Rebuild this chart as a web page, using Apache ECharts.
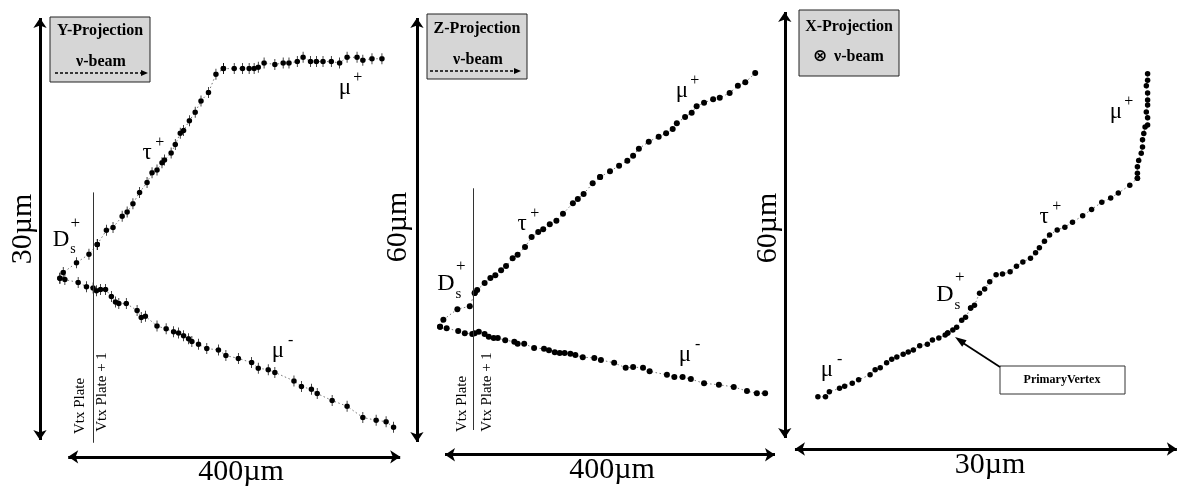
<!DOCTYPE html>
<html>
<head>
<meta charset="utf-8">
<script src="https://cdn.jsdelivr.net/npm/echarts@6.0.0/dist/echarts.min.js"></script>
<style>html,body{margin:0;padding:0;background:#fff}#c{width:1177px;height:487px}</style>
</head>
<body>
<div id="c"></div>
<script>
// ---------- DATA (µm) ----------
// Y-Projection (x: beam direction, 400 µm scale; y: 30 µm scale)
const yDs = [[-10,11.5],[-6,11.9],[10,12.6],[25,13.2],[35,13.9]];
const yTau = [[35,13.9],[46,14.9],[54,15.1],[65,15.9],[71,16.2],[78,16.8],[86,17.6],[95,18.3],[101,19.0],[107,19.2],[113,19.7],[116,19.9],[124,20.4],[129,21.0],[135,21.8],[139,22.0],[146,22.7],[153,23.3],[160,24.1],[169,24.7],[178,26.0],[187,26.4]];
const yMuPlus = [[187,26.4],[200,26.4],[210,26.4],[218,26.4],[224,26.4],[229,26.5],[236,26.8],[249,26.7],[259,26.8],[266,26.8],[276,26.9],[283,27.2],[292,26.9],[299,26.9],[307,26.9],[317,26.9],[327,26.8],[336,27.2],[348,27.2],[355,27.0],[366,27.1],[378,27.1]];
const yMuMinus = [[-10,11.5],[-4,11.4],[12,11.2],[22,10.9],[30,10.8],[34,10.6],[39,10.7],[45,10.7],[52,10.2],[57,9.8],[61,9.7],[70,9.7],[83,9.2],[88,8.7],[93,8.8],[107,8.1],[118,7.9],[127,7.7],[133,7.6],[139,7.4],[145,7.2],[149,7.0],[157,6.8],[167,6.5],[181,6.4],[190,6.0],[205,5.8],[221,5.5],[229,5.1],[241,5.0],[249,4.8],[272,4.2],[281,3.8],[293,3.6],[300,3.3],[318,2.8],[336,2.4],[355,1.6],[371,1.4],[383,1.3],[392,0.9]];

// Z-Projection (x: 400 µm scale; y: 60 µm scale)
const zDs = [[-6,16.3],[-2,17.3],[15,18.8],[30,19.2],[36,21.1]];
const zTau = [[36,21.1],[39,21.5],[48,22.5],[55,23.2],[61,23.6],[68,24.3],[74,24.9],[82,26.0],[88,26.5],[97,27.6],[105,29.0],[113,29.7],[119,30.1],[127,30.8],[135,31.3],[143,32.3],[155,33.8],[161,34.4],[168,35.1],[179,36.6],[188,37.5]];
const zMuPlus = [[188,37.5],[200,38.3],[211,39.1],[221,39.8],[228,40.5],[235,41.5],[247,42.5],[259,43.2],[268,43.7],[276,44.3],[281,45.1],[291,46.0],[299,46.6],[305,47.5],[314,48.0],[325,48.5],[333,48.7],[345,49.4],[355,50.4],[364,50.9],[376,52.2]];
const zMuMinus = [[-6,16.3],[2,16.1],[16,15.7],[24,15.4],[33,15.3],[36,15.4],[41,15.6],[48,15.3],[53,14.9],[59,14.7],[64,14.7],[73,14.4],[84,14.2],[88,13.9],[96,13.9],[108,13.3],[120,13.2],[126,13.0],[133,12.7],[139,12.6],[145,12.6],[152,12.5],[158,12.3],[167,12.0],[181,11.9],[189,11.6],[205,11.2],[219,10.5],[228,10.6],[240,10.5],[248,10.0],[269,9.5],[278,9.2],[288,9.2],[298,8.9],[314,8.3],[332,8.1],[350,7.8],[366,7.2],[378,6.9],[388,6.9]];

// X-Projection (beam into page; x: 30 µm scale; y: 60 µm scale)
const xMuMinus = [[1.8,5.8],[2.4,5.8],[2.7,6.5],[3.5,7.0],[3.9,7.3],[4.5,7.7],[5.0,8.2],[5.9,8.9],[6.3,9.6],[6.7,9.9],[7.2,10.6],[7.6,11.1],[8.0,11.4],[8.5,11.8],[8.9,12.1],[9.3,12.4],[9.8,13.0],[10.4,13.2],[10.8,13.8],[11.3,14.1],[11.8,14.5],[12.0,14.8]];
const xDs = [[12.0,14.8],[12.4,15.2],[12.7,15.6],[13.1,16.6],[13.4,17.0],[13.8,18.3]];
const xTau = [[13.8,18.3],[14.1,18.7],[14.5,20.4],[14.9,21.0],[15.3,22.0],[15.8,23.0],[16.3,23.1],[16.9,23.4],[17.4,24.2],[17.9,24.8],[18.5,25.3],[18.9,26.1],[19.2,26.8],[19.6,27.7],[20.0,28.6],[20.6,29.3],[21.2,29.7],[21.8,30.4],[22.6,31.3],[23.3,32.2],[24.1,33.2],[24.8,33.8],[25.4,34.5],[26.3,35.6],[26.9,36.6]];
const xMuPlus = [[26.9,36.6],[26.9,37.3],[26.9,38.2],[27.0,39.1],[27.2,40.1],[27.3,41.0],[27.3,42.0],[27.4,42.9],[27.5,43.8],[27.7,44.1],[27.7,45.1],[27.6,45.9],[27.7,46.9],[27.7,47.6],[27.7,48.6],[27.6,49.6],[27.7,50.4],[27.7,51.3]];

// scale bars [from, to] (µm) and vertex-plate boundary
const yScaleX = [0, 400], yScaleY = [0, 30], yVtxPlateX = 30;
const zScaleX = [0, 400], zScaleY = [0, 60], zVtxPlateX = 34;
const xScaleX = [0, 30],  xScaleY = [0, 60];

// ---------- CHART ----------
const FONT = '"Liberation Serif","Times New Roman",serif';
const chart = echarts.init(document.getElementById('c'), null, {renderer: 'canvas'});

const errDot = 'path://M2.6,0L3.4,0L3.4,12L2.6,12Z M0,6A3,3 0 1 1 6,6A3,3 0 1 1 0,6Z';

function track(idx, data, symbol, size) {
  return {
    type: 'line', xAxisIndex: idx, yAxisIndex: idx, data: data,
    symbol: symbol, symbolSize: size, showSymbol: true,
    itemStyle: {color: '#000'},
    lineStyle: {color: '#777', width: 1, type: [1.5, 2.5]},
    silent: true, animation: false, clip: false, z: 3
  };
}
function bars(sx, sy, barX, barY, vtx) {
  const d = [
    [{coord: [barX, sy[0]]}, {coord: [barX, sy[1]]}],
    [{coord: [sx[0], barY]}, {coord: [sx[1], barY]}]
  ];
  if (vtx) {
    d.push([{coord: [vtx[0], vtx[1]], symbol: 'none', lineStyle: {width: 1, color: '#333', type: 'solid'}},
            {coord: [vtx[0], vtx[2]], symbol: 'none'}]);
  }
  return {
    silent: true, animation: false, symbol: ['arrow', 'arrow'], symbolSize: 10,
    label: {show: false},
    lineStyle: {color: '#000', width: 3, type: 'solid'},
    emphasis: {disabled: true},
    data: d
  };
}

const s = [];
s.push(track(0, yDs, errDot, [5.5, 11]));
s.push(track(0, yTau, errDot, [5.5, 11]));
s.push(track(0, yMuPlus, errDot, [5.5, 11]));
const ym = track(0, yMuMinus, errDot, [5.5, 11]);
ym.markLine = bars(yScaleX, yScaleY, -34, -1.2, [yVtxPlateX, 17.6, -0.2]);
s.push(ym);

s.push(track(1, zDs, 'circle', 6));
s.push(track(1, zTau, 'circle', 6));
s.push(track(1, zMuPlus, 'circle', 6));
const zm = track(1, zMuMinus, 'circle', 6);
zm.markLine = bars(zScaleX, zScaleY, -34, -1.8, [zVtxPlateX, 35.9, 1.7]);
s.push(zm);

s.push(track(2, xDs, 'circle', 5.5));
s.push(track(2, xTau, 'circle', 5.5));
s.push(track(2, xMuPlus, 'circle', 5.5));
const xm = track(2, xMuMinus, 'circle', 5.5);
xm.markLine = bars(xScaleX, xScaleY, -0.8, -1.55, null);
s.push(xm);

function T(text, x, y, size, opts) {
  opts = opts || {};
  return {
    type: 'text', x: x, y: y, rotation: opts.rot || 0, z: 10, silent: true,
    style: {text: text, font: (opts.bold ? 'bold ' : '') + size + 'px ' + (opts.family || FONT),
            fill: '#000', align: opts.align || 'center', verticalAlign: 'middle'}
  };
}
function particle(base, sup, x, y, size) {
  return [T(base, x, y, size), T(sup, x + size * 0.55, y - size * 0.45, Math.round(size * 0.7))];
}
function ds(x, y, size) {
  return [T('D', x, y, size), T('s', x + size * 0.52, y + size * 0.42, Math.round(size * 0.62)),
          T('+', x + size * 0.62, y - size * 0.72, Math.round(size * 0.72))];
}
function box(x, y, w, h) {
  return {type: 'rect', z: 8, silent: true, shape: {x: x, y: y, width: w, height: h},
          style: {fill: '#d6d6d6', stroke: '#222', lineWidth: 1}};
}
function dashArrow(x1, x2, y) {
  return [
    {type: 'line', z: 9, silent: true, shape: {x1: x1, y1: y, x2: x2 - 5, y2: y},
     style: {stroke: '#000', lineWidth: 1.5, lineDash: [3, 2]}},
    {type: 'polygon', z: 9, silent: true, shape: {points: [[x2, y], [x2 - 7, y - 3], [x2 - 7, y + 3]]},
     style: {fill: '#000'}}
  ];
}

const rot = Math.PI / 2;
const g = [].concat(
  // Panel 1
  box(50, 17, 100, 65), T('Y-Projection', 100, 31, 16, {bold: true}), T('ν-beam', 101, 62, 16, {bold: true}),
  dashArrow(55, 148, 73),
  T('30µm', 23, 229, 30, {rot: rot}), T('400µm', 241, 472, 30),
  particle('μ', '+', 345, 88, 23), particle('τ', '+', 147, 153, 23), ds(61, 240, 23),
  particle('μ', '-', 278, 351, 23),
  T('Vtx Plate', 80, 406, 15, {rot: rot}), T('Vtx Plate + 1', 102, 392, 15, {rot: rot}),
  // Panel 2
  box(427, 14, 100, 65), T('Z-Projection', 477, 29, 16, {bold: true}), T('ν-beam', 478, 60, 16, {bold: true}),
  dashArrow(430, 521, 71),
  T('60µm', 398, 227, 30, {rot: rot}), T('400µm', 612, 470, 30),
  particle('μ', '+', 682, 91, 23), particle('τ', '+', 522, 224, 23), ds(446, 284, 24),
  particle('μ', '-', 685, 355, 23),
  T('Vtx Plate', 462, 404, 15, {rot: rot}), T('Vtx Plate + 1', 487, 392, 15, {rot: rot}),
  // Panel 3
  box(799, 10, 100, 66), T('X-Projection', 849, 27, 16, {bold: true}),
  T('⊗', 820, 57, 17, {bold: true, family: '"DejaVu Sans",sans-serif'}), T('ν-beam', 859, 57, 16, {bold: true}),
  T('60µm', 768, 228, 30, {rot: rot}), T('30µm', 990, 465, 30),
  particle('μ', '+', 1116, 112, 23), particle('τ', '+', 1044, 217, 23), ds(945, 295, 24),
  particle('μ', '-', 827, 370, 23),
  {type: 'rect', z: 8, silent: true, shape: {x: 1000, y: 366, width: 125, height: 28},
   style: {fill: '#fff', stroke: '#333', lineWidth: 1}},
  T('PrimaryVertex', 1062, 380, 12, {bold: true}),
  {type: 'line', z: 9, silent: true, shape: {x1: 1000, y1: 367, x2: 963, y2: 343},
   style: {stroke: '#000', lineWidth: 1.8}},
  {type: 'polygon', z: 9, silent: true, shape: {points: [[955, 337], [966.6, 340.2], [962.2, 346.8]]},
   style: {fill: '#000'}}
);

const ax = (min, max) => ({type: 'value', min: min, max: max, show: false});
chart.setOption({
  backgroundColor: '#fff',
  animation: false,
  grid: [
    {left: 35, top: 3.9, width: 373.5, height: 464.2, containLabel: false, outerBoundsMode: 'none'},
    {left: 412, top: 3.85, width: 371.25, height: 459.35, containLabel: false, outerBoundsMode: 'none'},
    {left: 769.5, top: 1.35, width: 411.2, height: 450.85, containLabel: false, outerBoundsMode: 'none'}
  ],
  xAxis: [Object.assign(ax(-40, 410), {gridIndex: 0}), Object.assign(ax(-40, 410), {gridIndex: 1}), Object.assign(ax(-2, 30.3), {gridIndex: 2})],
  yAxis: [Object.assign(ax(-2, 31), {gridIndex: 0}), Object.assign(ax(-3, 62), {gridIndex: 1}), Object.assign(ax(-2, 61.5), {gridIndex: 2})],
  series: s,
  graphic: g
});
</script>
</body>
</html>
